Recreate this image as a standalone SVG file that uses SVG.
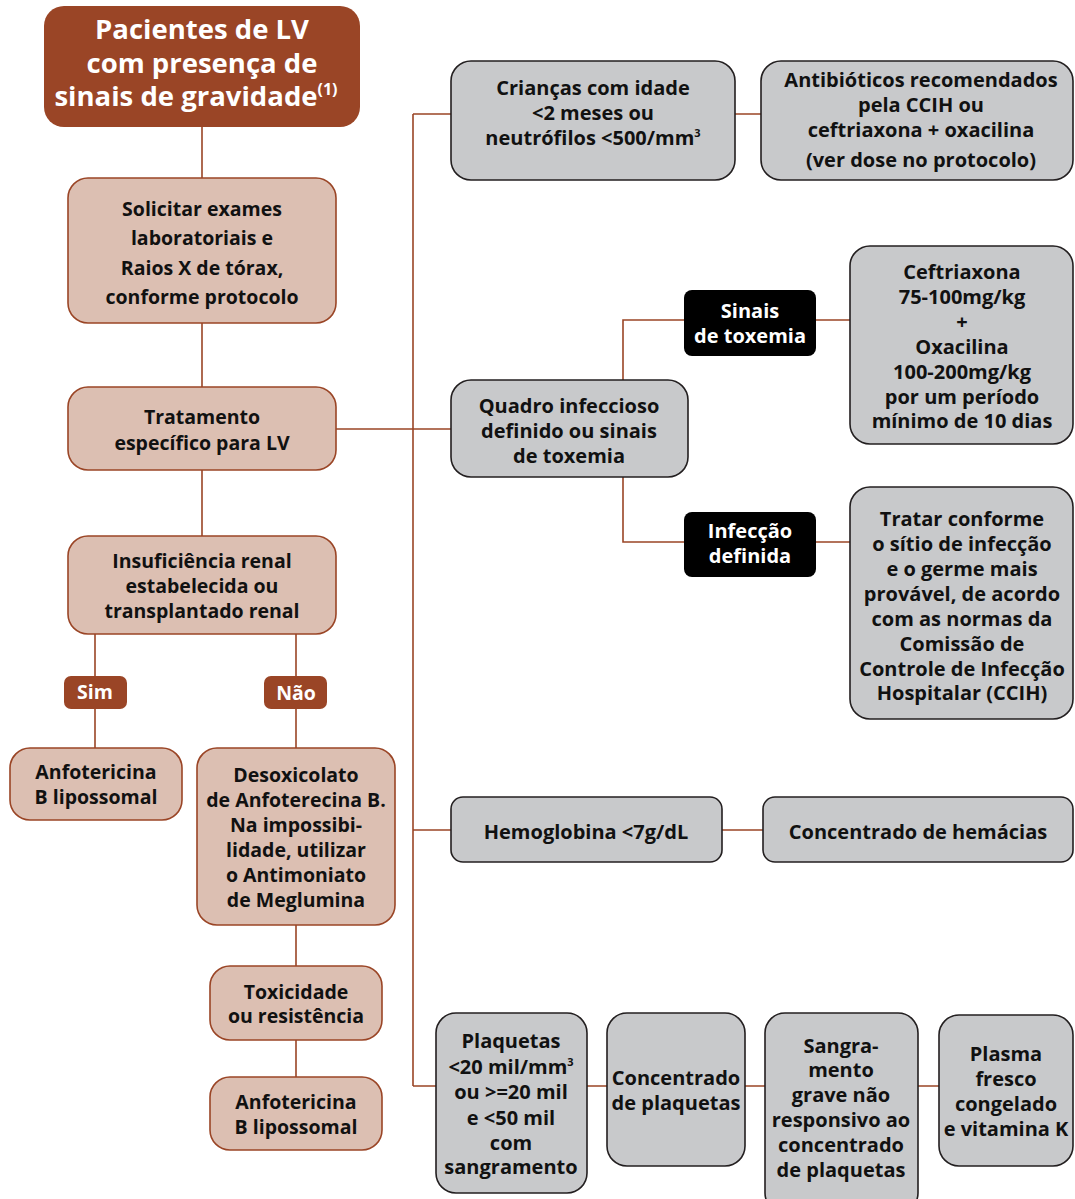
<svg xmlns="http://www.w3.org/2000/svg" width="1075" height="1199" viewBox="0 0 1075 1199">
<style>
text{font-family:"Open Sans","Noto Sans",sans-serif;font-weight:700;text-anchor:middle;font-size:20px;fill:#111}
.p text{font-size:19.5px}
.title{fill:#fff;font-size:27.5px}
.wt{fill:#fff}
.brn{fill:#9a4526;stroke:none}
.pink{fill:#dcbfb2;stroke:#9a4526;stroke-width:1.6}
.gray{fill:#c8c9cb;stroke:#231f20;stroke-width:1.6}
.blk{fill:#000;stroke:none}
.c{stroke:#9a4526;stroke-width:1.6;fill:none}
</style>
<g id="connectors">
<path class="c" d="M202 127V178M202 323V387M202 470V536M95 634V748M296 634V748M296 925V966M296 1040V1077"/>
<path class="c" d="M336 429H451M413 114V1086M413 114H451M735 114H761M413 830H451M722 830H763M413 1086H436M587 1086H607M745 1086H765M918 1086H939"/>
<path class="c" d="M623 380V320H684M816 320H850M623 477V542H684M816 542H850"/>
</g>
<g id="n-title"><rect class="brn" x="44" y="6" width="316" height="121" rx="20"/>
<text class="title" x="202" y="39">Pacientes de LV</text>
<text class="title" x="202" y="73">com presença de</text>
<text class="title" x="196" y="106">sinais de gravidade<tspan font-size="16" dy="-11">(1)</tspan></text></g>
<g id="n-solicitar" class="p"><rect class="pink" x="68" y="178" width="268" height="145" rx="20"/>
<text x="202" y="216">Solicitar exames</text><text x="202" y="245">laboratoriais e</text><text x="202" y="275">Raios X de tórax,</text><text x="202" y="304">conforme protocolo</text></g>
<g id="n-tratamento" class="p"><rect class="pink" x="68" y="387" width="268" height="83" rx="20"/>
<text x="202" y="424">Tratamento</text><text x="202" y="450">específico para LV</text></g>
<g id="n-insuf" class="p"><rect class="pink" x="68" y="536" width="268" height="98" rx="20"/>
<text x="202" y="568">Insuficiência renal</text><text x="202" y="593">estabelecida ou</text><text x="202" y="618">transplantado renal</text></g>
<g id="n-sim" class="p"><rect class="brn" x="64" y="676" width="63" height="33" rx="7"/><text class="wt" x="95" y="699">Sim</text></g>
<g id="n-nao" class="p"><rect class="brn" x="264" y="676" width="63" height="33" rx="7"/><text class="wt" x="296" y="700">Não</text></g>
<g id="n-anfo1" class="p"><rect class="pink" x="10" y="748" width="172" height="72" rx="20"/>
<text x="96" y="779">Anfotericina</text><text x="96" y="804">B lipossomal</text></g>
<g id="n-desox" class="p"><rect class="pink" x="197" y="748" width="198" height="177" rx="20"/>
<text x="296" y="782">Desoxicolato</text><text x="296" y="807">de Anfoterecina B.</text><text x="296" y="832">Na impossibi-</text><text x="296" y="857">lidade, utilizar</text><text x="296" y="882">o Antimoniato</text><text x="296" y="907">de Meglumina</text></g>
<g id="n-toxic" class="p"><rect class="pink" x="210" y="966" width="172" height="74" rx="20"/>
<text x="296" y="999">Toxicidade</text><text x="296" y="1023">ou resistência</text></g>
<g id="n-anfo2" class="p"><rect class="pink" x="210" y="1077" width="172" height="73" rx="20"/>
<text x="296" y="1109">Anfotericina</text><text x="296" y="1134">B lipossomal</text></g>
<g id="n-criancas"><rect class="gray" x="451" y="61" width="284" height="119" rx="20"/>
<text x="593" y="95">Crianças com idade</text><text x="593" y="120">&lt;2 meses ou</text><text x="593" y="145">neutrófilos &lt;500/mm<tspan font-size="11" dy="-8">3</tspan></text></g>
<g id="n-antib"><rect class="gray" x="761" y="61" width="312" height="119" rx="20"/>
<text x="921" y="87">Antibióticos recomendados</text><text x="921" y="112">pela CCIH ou</text><text x="921" y="137">ceftriaxona + oxacilina</text><text x="921" y="167">(ver dose no protocolo)</text></g>
<g id="n-quadro"><rect class="gray" x="451" y="380" width="237" height="97" rx="20"/>
<text x="569" y="413">Quadro infeccioso</text><text x="569" y="438">definido ou sinais</text><text x="569" y="463">de toxemia</text></g>
<g id="n-sinais"><rect class="blk" x="684" y="290" width="132" height="66" rx="8"/>
<text class="wt" x="750" y="318">Sinais</text><text class="wt" x="750" y="343">de toxemia</text></g>
<g id="n-infec"><rect class="blk" x="684" y="512" width="132" height="65" rx="8"/>
<text class="wt" x="750" y="538">Infecção</text><text class="wt" x="750" y="563">definida</text></g>
<g id="n-ceftri"><rect class="gray" x="850" y="246" width="223" height="198" rx="20"/>
<text x="962" y="279">Ceftriaxona</text><text x="962" y="304">75-100mg/kg</text><text x="962" y="329">+</text><text x="962" y="354">Oxacilina</text><text x="962" y="379">100-200mg/kg</text><text x="962" y="404">por um período</text><text x="962" y="428">mínimo de 10 dias</text></g>
<g id="n-tratar"><rect class="gray" x="850" y="487" width="223" height="232" rx="20"/>
<text x="962" y="526">Tratar conforme</text><text x="962" y="551">o sítio de infecção</text><text x="962" y="576">e o germe mais</text><text x="962" y="601">provável, de acordo</text><text x="962" y="626">com as normas da</text><text x="962" y="651">Comissão de</text><text x="962" y="676">Controle de Infecção</text><text x="962" y="700">Hospitalar (CCIH)</text></g>
<g id="n-hemo"><rect class="gray" x="451" y="797" width="271" height="65" rx="12"/>
<text x="586" y="839">Hemoglobina &lt;7g/dL</text></g>
<g id="n-conc-hem"><rect class="gray" x="763" y="797" width="310" height="65" rx="12"/>
<text x="918" y="839">Concentrado de hemácias</text></g>
<g id="n-plaq"><rect class="gray" x="436" y="1013" width="151" height="180" rx="20"/>
<text x="511" y="1048">Plaquetas</text><text x="511" y="1074">&lt;20 mil/mm<tspan font-size="11" dy="-8">3</tspan></text><text x="511" y="1099">ou &gt;=20 mil</text><text x="511" y="1125">e &lt;50 mil</text><text x="511" y="1150">com</text><text x="511" y="1174">sangramento</text></g>
<g id="n-conc-plaq"><rect class="gray" x="607" y="1013" width="138" height="153" rx="20"/>
<text x="676" y="1085">Concentrado</text><text x="676" y="1110">de plaquetas</text></g>
<g id="n-sangr"><rect class="gray" x="765" y="1013" width="153" height="200" rx="20"/>
<text x="841" y="1053">Sangra-</text><text x="841" y="1077">mento</text><text x="841" y="1102">grave não</text><text x="841" y="1127">responsivo ao</text><text x="841" y="1152">concentrado</text><text x="841" y="1177">de plaquetas</text></g>
<g id="n-plasma"><rect class="gray" x="939" y="1015" width="134" height="151" rx="20"/>
<text x="1006" y="1061">Plasma</text><text x="1006" y="1086">fresco</text><text x="1006" y="1111">congelado</text><text x="1006" y="1136">e vitamina K</text></g>
</svg>
